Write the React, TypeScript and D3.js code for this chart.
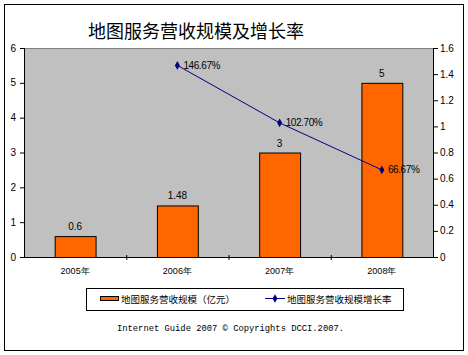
import React from "react";
import * as d3 from "d3";

const years = ["2005年", "2006年", "2007年", "2008年"];
const revenue = [0.6, 1.48, 3, 5];
const revenueLabels = ["0.6", "1.48", "3", "5"];
const growth = [null, 1.4667, 1.027, 0.6667];
const growthLabels = ["", "146.67%", "102.70%", "66.67%"];
const leftTicks = [0, 1, 2, 3, 4, 5, 6];
const rightTicks = [0, 0.2, 0.4, 0.6, 0.8, 1, 1.2, 1.4, 1.6];

const W = 468, H = 355;
const plot = { x0: 24, x1: 433, y0: 48, y1: 257 };
const sans = "Arial, 'Liberation Sans', sans-serif";
const cjk = "'Noto Sans CJK SC', sans-serif";

export default function App() {
  const x = d3.scaleBand<string>().domain(years).range([plot.x0, plot.x1]).paddingInner(0.6).paddingOuter(0.3);
  const band = d3.scaleBand<string>().domain(years).range([plot.x0, plot.x1]);
  const yL = d3.scaleLinear().domain([0, 6]).range([plot.y1, plot.y0]);
  const yR = d3.scaleLinear().domain([0, 1.6]).range([plot.y1, plot.y0]);
  const pts = years
    .map((yr, i) => ({ yr, v: growth[i], lab: growthLabels[i] }))
    .filter((d) => d.v !== null) as { yr: string; v: number; lab: string }[];
  const cx = (yr: string) => (band(yr) as number) + band.bandwidth() / 2;
  const line = d3.line<{ yr: string; v: number }>().x((d) => cx(d.yr)).y((d) => yR(d.v));
  const diamond = d3.symbol().type(d3.symbolDiamond).size(22)();

  return (
    <svg width={W} height={H} style={{ position: "absolute", left: 0, top: 0 }}>
      <rect x={0} y={0} width={W} height={H} fill="#fff" />
      <rect x={4.5} y={4.5} width={459} height={346} fill="#fff" stroke="#000" />
      <text x={196} y={38} textAnchor="middle" fontFamily={cjk} fontSize={18} fill="#000">
        地图服务营收规模及增长率
      </text>
      <rect x={plot.x0} y={plot.y0} width={plot.x1 - plot.x0} height={plot.y1 - plot.y0} fill="#C0C0C0" />
      <line x1={plot.x0} x2={plot.x1} y1={plot.y0 + 0.5} y2={plot.y0 + 0.5} stroke="#808080" />
      {years.map((yr, i) => (
        <g key={yr}>
          <rect
            x={(x(yr) as number) + 0.5}
            y={yL(revenue[i]) + 0.5}
            width={x.bandwidth()}
            height={yL(0) - yL(revenue[i])}
            fill="#FF6600"
            stroke="#000"
          />
          <text x={cx(yr)} y={yL(revenue[i]) - 6} textAnchor="middle" fontFamily={sans} fontSize={10}>
            {revenueLabels[i]}
          </text>
          <text x={cx(yr)} y={274} textAnchor="middle" fontFamily={sans} fontSize={9}>
            {yr}
          </text>
        </g>
      ))}
      {/* axes */}
      <line x1={plot.x0 + 0.5} x2={plot.x0 + 0.5} y1={plot.y0} y2={plot.y1} stroke="#000" />
      <line x1={plot.x1 + 0.5} x2={plot.x1 + 0.5} y1={plot.y0} y2={plot.y1} stroke="#000" />
      <line x1={plot.x0} x2={plot.x1 + 1} y1={plot.y1 + 0.5} y2={plot.y1 + 0.5} stroke="#000" />
      {years.slice(1).map((yr) => (
        <line key={yr} x1={(band(yr) as number) + 0.5} x2={(band(yr) as number) + 0.5} y1={plot.y1 - 2} y2={plot.y1 + 3} stroke="#000" />
      ))}
      {leftTicks.map((t) => (
        <g key={"l" + t}>
          <line x1={plot.x0 - 4} x2={plot.x0} y1={yL(t) + 0.5} y2={yL(t) + 0.5} stroke="#000" />
          <text x={16} y={yL(t) + 3.5} textAnchor="end" fontFamily={sans} fontSize={10}>
            {t}
          </text>
        </g>
      ))}
      {rightTicks.map((t) => (
        <g key={"r" + t}>
          <line x1={plot.x1} x2={plot.x1 + 5} y1={yR(t) + 0.5} y2={yR(t) + 0.5} stroke="#000" />
          <text x={440} y={yR(t) + 3.5} textAnchor="start" fontFamily={sans} fontSize={10}>
            {d3.format("~g")(t)}
          </text>
        </g>
      ))}
      <path d={line(pts) || ""} fill="none" stroke="#000080" strokeWidth={1} />
      {pts.map((p) => (
        <g key={p.yr}>
          <path d={diamond || ""} transform={`translate(${cx(p.yr)},${yR(p.v)})`} fill="#000080" />
          <text x={cx(p.yr) + 6} y={yR(p.v) + 3.5} fontFamily={sans} fontSize={10} letterSpacing={-0.4}>
            {p.lab}
          </text>
        </g>
      ))}
      {/* legend */}
      <rect x={86.5} y={288.5} width={317} height={22} fill="#fff" stroke="#000" />
      <rect x={100.5} y={296.5} width={18} height={4} fill="#FF6600" stroke="#000" />
      <text x={121} y={302.5} fontFamily={cjk} fontSize={9.5}>地图服务营收规模（亿元）</text>
      <line x1={265} x2={285} y1={298.5} y2={298.5} stroke="#000080" />
      <path d={diamond || ""} transform="translate(275,298.5)" fill="#000080" />
      <text x={287} y={302.5} fontFamily={cjk} fontSize={9.5}>地图服务营收规模增长率</text>
      <text x={117} y={331} fontFamily="'Liberation Mono', monospace" fontSize={8.8}>
        Internet Guide 2007 © Copyrights DCCI.2007.
      </text>
    </svg>
  );
}
